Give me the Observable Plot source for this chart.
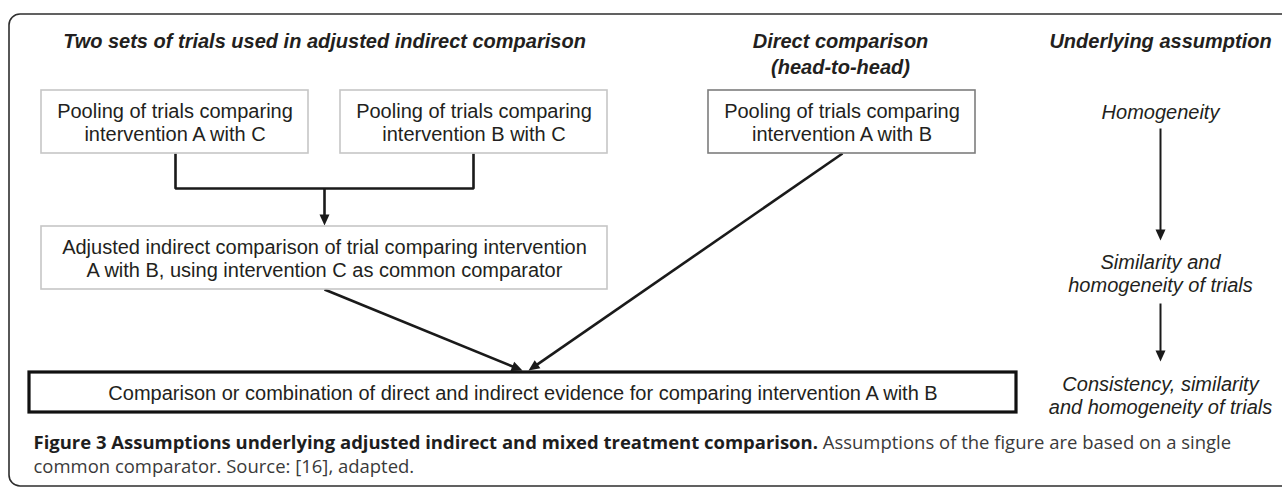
<!DOCTYPE html>
<html><head><meta charset="utf-8">
<script src="https://cdn.jsdelivr.net/npm/d3@7"></script>
<script src="https://cdn.jsdelivr.net/npm/@observablehq/plot@0.6"></script>
<style>html,body{margin:0;padding:0;background:#fff}#chart svg{display:block}</style>
</head><body><div id="chart"></div>
<script>
// ---------- diagram content ----------
const nodeIds = ["poolAC", "poolBC", "poolAB", "indirect", "combined"];
const nodeLabels = [
  "Pooling of trials comparing\nintervention A with C",
  "Pooling of trials comparing\nintervention B with C",
  "Pooling of trials comparing\nintervention A with B",
  "Adjusted indirect comparison of trial comparing intervention\nA with B, using intervention C as common comparator",
  "Comparison or combination of direct and indirect evidence for comparing intervention A with B"
];
const nodeRoles = ["indirect", "indirect", "direct", "indirect", "combined"];
// layout of the nodes in diagram units
const nodeLeft   = [41, 340, 708, 41, 29];
const nodeRight  = [308, 607, 975, 607, 1016];
const nodeTop    = [90, 90, 90, 226, 372];
const nodeBottom = [153, 153, 153, 289, 412];

const headerLabels = ["Two sets of trials used in adjusted indirect comparison", "Direct comparison\n(head-to-head)", "Underlying assumption"];
const headerX = [324, 840, 1160];
const headerY = [39, 52, 39];

const assumptionLabels = ["Homogeneity", "Similarity and\nhomogeneity of trials", "Consistency, similarity\nand homogeneity of trials"];
const assumptionX = [1160, 1160, 1160];
const assumptionY = [111, 272.5, 394.5];

// elbow joining the two pooled indirect sources
const elbowX = [175, 175, 473, 473];
const elbowY = [153, 188, 188, 153];

// arrows
const arrowRoles = ["flow", "flow", "flow", "assumption", "assumption"];
const arrowFromX = [324, 324, 842, 1160, 1160];
const arrowFromY = [188, 289, 153, 128, 303];
const arrowToX   = [324, 522, 528, 1160, 1160];
const arrowToY   = [225, 370, 370, 240, 361];

const frameX = [9, 1320];
const frameY = [14, 486];

const captionBold = "Figure 3 Assumptions underlying adjusted indirect and mixed treatment comparison.";
const captionRest = "Assumptions of the figure are based on a single";
const captionLine2 = "common comparator. Source: [16], adapted.";
const captionX = 33;
const captionY = [443, 467];

// ---------- build tables ----------
const nodes = nodeIds.map((id, i) => ({id, label: nodeLabels[i], role: nodeRoles[i],
  x1: nodeLeft[i], x2: nodeRight[i], y1: nodeTop[i], y2: nodeBottom[i]}));
const headers = headerLabels.map((t, i) => ({t, x: headerX[i], y: headerY[i]}));
const assumptions = assumptionLabels.map((t, i) => ({t, x: assumptionX[i], y: assumptionY[i]}));
const elbow = elbowX.map((x, i) => ({x, y: elbowY[i]}));

const HEAD_L = 11, HEAD_W = 5;
const arrows = arrowRoles.map((role, i) => {
  const x1 = arrowFromX[i], y1 = arrowFromY[i], x2 = arrowToX[i], y2 = arrowToY[i];
  const len = Math.hypot(x2 - x1, y2 - y1), ux = (x2 - x1) / len, uy = (y2 - y1) / len;
  const bx = x2 - ux * HEAD_L, by = y2 - uy * HEAD_L;
  return {id: i, role, x1, y1, x2, y2, bx: bx + ux, by: by + uy,
    head: [[x2, y2], [bx - uy * HEAD_W, by + ux * HEAD_W], [bx + uy * HEAD_W, by - ux * HEAD_W]]};
});
const heads = arrows.flatMap(a => a.head.map(([x, y]) => ({id: a.id, x, y})));

const SANS = "'Liberation Sans', Arial, Helvetica, sans-serif";
const CAP = "'Open Sans', 'Noto Sans', sans-serif";
const ctx = document.createElement("canvas").getContext("2d");
function measure(str, font) { ctx.font = font; return ctx.measureText(str).width; }
// caption size chosen so the bold lead-in spans the same width as in the figure
let capSize = 100 * 785 / measure(captionBold, `bold 100px ${CAP}`);
capSize = Math.max(14, Math.min(20, capSize));
const boldW = measure(captionBold + " ", `bold ${capSize}px ${CAP}`);
const captions = [
  {t: captionBold, x: captionX, y: captionY[0], w: "bold", c: "#1e1e1e"},
  {t: captionRest, x: captionX + boldW, y: captionY[0], w: "normal", c: "#3a3a3a"},
  {t: captionLine2, x: captionX, y: captionY[1], w: "normal", c: "#3a3a3a"}
];

const INK = "#1a1a1a";
const chart = Plot.plot({
  width: 1282, height: 487, margin: 0,
  x: {domain: [0, 1282], range: [0, 1282], axis: null},
  y: {domain: [0, 487], range: [0, 487], axis: null},
  style: {background: "#fff", fontFamily: SANS},
  marks: [
    Plot.rect([0], {x1: frameX[0], x2: frameX[1], y1: frameY[0], y2: frameY[1], rx: 11,
      fill: "none", stroke: "#2e2e2e", strokeWidth: 1.6, clip: true}),
    Plot.line(elbow, {x: "x", y: "y", stroke: INK, strokeWidth: 2.6, strokeLinecap: "butt", strokeLinejoin: "miter"}),
    Plot.link(arrows.filter(a => a.role === "flow"), {x1: "x1", y1: "y1", x2: "bx", y2: "by",
      stroke: INK, strokeWidth: 2.6, strokeLinecap: "butt"}),
    Plot.link(arrows.filter(a => a.role === "assumption"), {x1: "x1", y1: "y1", x2: "bx", y2: "by",
      stroke: INK, strokeWidth: 2, strokeLinecap: "butt"}),
    Plot.line(heads, {x: "x", y: "y", z: "id", fill: INK, stroke: "none"}),
    Plot.rect(nodes.filter(d => d.role === "indirect"), {x1: "x1", x2: "x2", y1: "y1", y2: "y2",
      fill: "#fff", stroke: "#c6c6c6", strokeWidth: 1.6}),
    Plot.rect(nodes.filter(d => d.role === "direct"), {x1: "x1", x2: "x2", y1: "y1", y2: "y2",
      fill: "#fff", stroke: "#7d7d7d", strokeWidth: 1.6}),
    Plot.rect(nodes.filter(d => d.role === "combined"), {x1: "x1", x2: "x2", y1: "y1", y2: "y2",
      fill: "#fff", stroke: "#111", strokeWidth: 3.2}),
    Plot.text(nodes, {x: d => (d.x1 + d.x2) / 2, y: d => (d.y1 + d.y2) / 2, text: "label",
      fontSize: 20, lineHeight: 1.15, fontFamily: SANS, fill: "#231f20"}),
    Plot.text(headers, {x: "x", y: "y", text: "t", fontSize: 20, lineHeight: 1.3,
      fontWeight: "bold", fontStyle: "italic", fontFamily: SANS, fill: "#231f20"}),
    Plot.text(assumptions, {x: "x", y: "y", text: "t", fontSize: 20, lineHeight: 1.15,
      fontStyle: "italic", fontFamily: SANS, fill: "#231f20"}),
    ...captions.map(c => Plot.text([c], {x: "x", y: "y", text: "t", textAnchor: "start",
      fontSize: capSize, fontWeight: c.w, fontFamily: CAP, fill: c.c}))
  ]
});
document.getElementById("chart").appendChild(chart);
</script></body></html>
